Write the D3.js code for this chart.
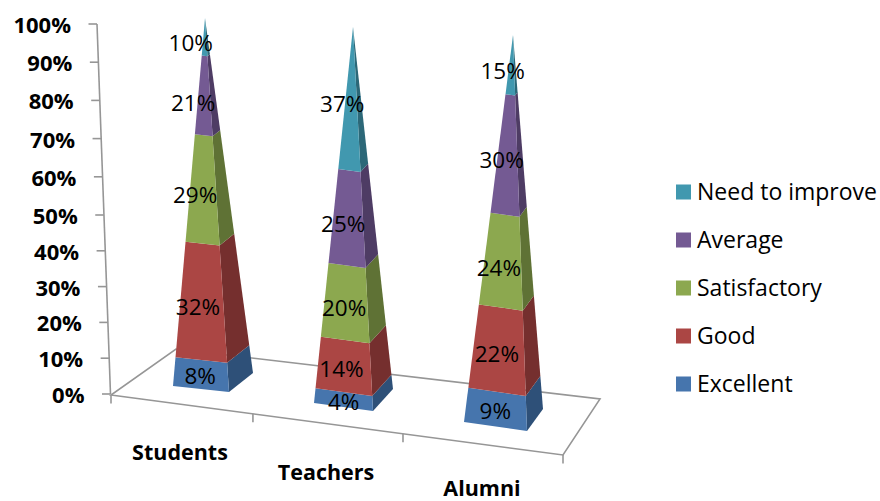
<!DOCTYPE html>
<html><head><meta charset="utf-8">
<script src="https://cdn.jsdelivr.net/npm/d3@7"></script>
<style>html,body{margin:0;padding:0;background:#fff}svg{display:block}text{font-family:"Open Sans",Lato,sans-serif}</style>
</head><body><svg id="c" width="880" height="501"></svg>
<script>
const categories = ["Students", "Teachers", "Alumni"];
const seriesNames = ["Excellent", "Good", "Satisfactory", "Average", "Need to improve"];
const excellent = [8, 4, 9];
const good = [32, 14, 22];
const satisfactory = [29, 20, 24];
const average = [21, 25, 30];
const needToImprove = [10, 37, 15];
const yTicks = [0, 10, 20, 30, 40, 50, 60, 70, 80, 90, 100];
const seriesValues = [excellent, good, satisfactory, average, needToImprove];

// Layout (projection of the 3D scene)
const frontColors = ["#4675AD", "#AB4644", "#8CA84F", "#745A93", "#4198AF"];
const sideColors = ["#2E5078", "#752F2E", "#5F7235", "#4E3C64", "#2C6878"];
const pyramids = [
  {fl:[173,386], fr:[229,392], br:[253,373], apex:[205,18]},
  {fl:[314,403], fr:[373,411], br:[393,389], apex:[353,27]},
  {fl:[464,422], fr:[527,431], br:[543,409], apex:[513,35]}
];
const labelNudge = [
  [[-1,2],[-4,5],[-8,5],[-11,7],[-14,6]],
  [[0,2],[-3,3],[-2,5],[-5,5],[-9,5]],
  [[-1,2],[-2,4],[-4,6],[-6,5],[-9,6]]
];
const svg = d3.select("#c");
const yPix = d3.scaleLinear().domain([0, 50, 100]).range([394, 215, 24]);
const xWall = d3.scaleLinear().domain([0, 100]).range([110.5, 97]);
const grey = "#969696";
const line = d3.line();
const poly = pts => line(pts) + "Z";

// floor
svg.append("path").attr("fill", "#fff").attr("stroke", grey).attr("stroke-width", 1.6)
  .attr("d", poly([[111,395],[563,455],[600,399],[176,349]]));
// wall axis
svg.append("line").attr("x1", xWall(0)).attr("x2", xWall(100)).attr("y1", yPix(0)).attr("y2", yPix(100))
  .attr("stroke", grey).attr("stroke-width", 1.6);
const yG = svg.append("g").selectAll("g").data(yTicks).join("g");
yG.append("line").attr("x1", d => xWall(d) - 8.5).attr("x2", d => xWall(d)).attr("y1", d => yPix(d)).attr("y2", d => yPix(d))
  .attr("stroke", grey).attr("stroke-width", 1.6);
yG.append("text").attr("x", d => xWall(d) - 26).attr("y", d => yPix(d) + 9).attr("text-anchor", "end")
  .attr("font-weight", 700).attr("font-size", 22).attr("fill", "#000").text(d => d + "%");

// category axis along the front edge of the floor
const catT = d3.scaleLinear().domain([0, 1, 2, 3]).range([0, 0.314, 0.646, 1]);
const catTicks = d3.range(categories.length + 1);
const edgeX = d3.scaleLinear().domain([0, 1]).range([111, 563]);
const edgeY = d3.scaleLinear().domain([0, 1]).range([395, 455]);
svg.append("g").selectAll("line").data(catTicks).join("line")
  .attr("x1", d => edgeX(catT(d))).attr("x2", d => edgeX(catT(d)))
  .attr("y1", d => edgeY(catT(d))).attr("y2", d => edgeY(catT(d)) + 8.5)
  .attr("stroke", grey).attr("stroke-width", 1.6);
const catLabelPos = [[180, 460], [326, 480], [482, 495.5]];
svg.append("g").selectAll("text").data(categories).join("text")
  .attr("x", (d, i) => catLabelPos[i][0]).attr("y", (d, i) => catLabelPos[i][1]).attr("text-anchor", "middle")
  .attr("font-weight", 700).attr("font-size", 21.5).attr("fill", "#000").text(d => d);

// pyramids
const rows = categories.map((c, i) => Object.fromEntries(seriesNames.map((s, k) => [s, seriesValues[k][i]])));
const stacked = d3.stack().keys(seriesNames)(rows);
const tScale = d3.scaleLinear().domain([0, 50, 100]).range([0, 0.49, 1]);
const along = (p, corner, v) => d3.interpolate(corner, p.apex)(tScale(v));
categories.forEach((c, i) => {
  const p = pyramids[i];
  const g = svg.append("g");
  stacked.forEach((s, k) => {
    const [a, b] = s[i];
    g.append("path").attr("fill", sideColors[k])
      .attr("d", poly([along(p,p.fr,a), along(p,p.br,a), along(p,p.br,b), along(p,p.fr,b)]));
    g.append("path").attr("fill", frontColors[k])
      .attr("d", poly([along(p,p.fl,a), along(p,p.fr,a), along(p,p.fr,b), along(p,p.fl,b)]));
  });
});
categories.forEach((c, i) => {
  const p = pyramids[i];
  stacked.forEach((s, k) => {
    const [a, b] = s[i];
    const m = (a + b) / 2;
    const l = along(p, p.fl, m), r = along(p, p.fr, m);
    svg.append("text").attr("text-anchor", "middle")
      .attr("x", (l[0] + r[0]) / 2 + labelNudge[i][k][0])
      .attr("y", (l[1] + r[1]) / 2 + labelNudge[i][k][1] + 8)
      .attr("font-size", 22.5).attr("fill", "#000").text((b - a) + "%");
  });
});

// legend
const legY = d3.scalePoint().domain(seriesNames).range([384, 192]);
const leg = svg.append("g").selectAll("g").data(seriesNames).join("g")
  .attr("transform", d => `translate(676,${legY(d)})`);
leg.append("rect").attr("x", 0).attr("y", -7.5).attr("width", 15).attr("height", 15)
  .attr("fill", (d, i) => frontColors[i]);
leg.append("text").attr("x", 21).attr("y", 7.5).attr("font-size", 23).attr("fill", "#000").text(d => d);
</script></body></html>
